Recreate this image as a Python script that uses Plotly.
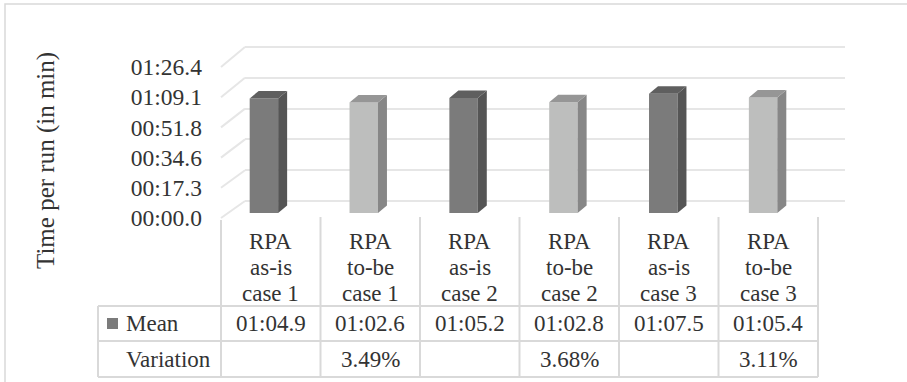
import plotly.graph_objects as go

# ---------------- data ----------------
cat_line1 = ["RPA", "RPA", "RPA", "RPA", "RPA", "RPA"]
cat_line2 = ["as-is", "to-be", "as-is", "to-be", "as-is", "to-be"]
cat_line3 = ["case 1", "case 1", "case 2", "case 2", "case 3", "case 3"]
mean_seconds = [64.9, 62.6, 65.2, 62.8, 67.5, 65.4]
variation_pct = [None, 3.49, None, 3.68, None, 3.11]
y_tick_seconds = [0, 17.28, 34.56, 51.84, 69.12, 86.4]
series_name = "Mean"
variation_label = "Variation"
y_title = "Time per run (in min)"


def fmt_time(sec):
    m = int(sec // 60)
    s = sec - 60 * m
    return f"{m:02d}:{s:04.1f}"


# ---------------- styling / geometry ----------------
W, H = 907, 382
FONT = "'Liberation Serif', 'Times New Roman', 'DejaVu Serif', serif"
TXT = "#333333"
GRID = "#e6e6e6"
BORDER = "#d9d9d9"
FRONT = {"as-is": "#7b7b7b", "to-be": "#bdbebd"}
SIDE = {"as-is": "#555555", "to-be": "#878787"}
TOP = {"as-is": "#5f5f5f", "to-be": "#969696"}


def px(x):
    return x / W


def py(y):
    return 1 - y / H


YMAX = y_tick_seconds[-1]
LO, HI = -0.6, YMAX + 0.6


def y_domain(pix0, pix_top):
    ppu = (pix0 - pix_top) / YMAX
    return [py(pix0 - LO * ppu), py(pix0 - HI * ppu)]


BACK0, BACKTOP = 201, 47
BAR0 = 213
BAR_PPU = 1.765
BARTOP = BAR0 - YMAX * BAR_PPU
FRONT0, FRONTTOP = 218, 67

BAR_W = 0.285
DX = 0.09
DY = 7.5 / BAR_PPU

fig = go.Figure()

fig.add_trace(go.Scatter(x=[None], y=[None], xaxis="x", yaxis="y",
                         showlegend=False, hoverinfo="skip"))

kinds = cat_line2
n = len(mean_seconds)
xs = list(range(n))

fig.add_trace(go.Bar(
    x=xs, y=mean_seconds, width=BAR_W, xaxis="x2", yaxis="y2",
    marker=dict(color=[FRONT[k] for k in kinds], line=dict(width=0)),
    name=series_name, showlegend=False,
))

for i, v in enumerate(mean_seconds):
    k = kinds[i]
    r = i + BAR_W / 2
    l = i - BAR_W / 2
    fig.add_trace(go.Scatter(
        x=[r, r + DX, r + DX, r, r], y=[0, DY, v + DY, v, 0],
        xaxis="x2", yaxis="y2", mode="lines", fill="toself",
        fillcolor=SIDE[k], line=dict(width=0), showlegend=False, hoverinfo="skip"))
    fig.add_trace(go.Scatter(
        x=[l, r, r + DX, l + DX, l], y=[v, v, v + DY, v + DY, v],
        xaxis="x2", yaxis="y2", mode="lines", fill="toself",
        fillcolor=TOP[k], line=dict(width=0), showlegend=False, hoverinfo="skip"))

fig.add_trace(go.Scatter(x=[None], y=[None], xaxis="x3", yaxis="y3",
                         showlegend=False, hoverinfo="skip"))

fig.update_layout(
    width=W, height=H,
    margin=dict(l=0, r=0, t=0, b=0, autoexpand=False),
    paper_bgcolor="white",
    plot_bgcolor="rgba(0,0,0,0)",
    font=dict(family=FONT, color=TXT, size=23),
    xaxis=dict(domain=[px(245), px(845)], range=[0, 1], visible=False),
    yaxis=dict(domain=y_domain(BACK0, BACKTOP), range=[LO, HI],
               tickvals=y_tick_seconds, showticklabels=False, ticks="",
               showgrid=True, gridcolor=GRID, gridwidth=2, zeroline=False,
               showline=False),
    xaxis2=dict(domain=[px(214), px(813)], range=[-0.5, n - 0.5], visible=False,
                anchor="y2"),
    yaxis2=dict(domain=y_domain(BAR0, BARTOP), range=[LO, HI], visible=False,
                anchor="x2"),
    xaxis3=dict(domain=[px(203), px(850)], range=[0, 1], visible=False, anchor="y3"),
    yaxis3=dict(domain=y_domain(FRONT0, FRONTTOP), range=[LO, HI], anchor="x3",
                tickvals=y_tick_seconds, ticktext=[fmt_time(t) for t in y_tick_seconds],
                showgrid=False, zeroline=False, showline=False, ticks="",
                automargin=False,
                tickfont=dict(size=23.5, family=FONT, color=TXT)),
)

shapes = []
shapes.append(dict(type="rect", xref="paper", yref="paper",
                   x0=px(5), x1=px(W + 10), y0=py(4), y1=py(H + 10),
                   line=dict(color=BORDER, width=1.5), fillcolor="rgba(0,0,0,0)"))

for t in y_tick_seconds:
    fy = FRONT0 - t * (FRONT0 - FRONTTOP) / YMAX
    by = BACK0 - t * (BACK0 - BACKTOP) / YMAX
    shapes.append(dict(type="line", xref="paper", yref="paper",
                       x0=px(221), y0=py(fy), x1=px(245), y1=py(by),
                       line=dict(color=GRID, width=2), layer="below"))

COL_X = [221 + i * (818 - 221) / n for i in range(n + 1)]
TBL_L = 98
HDR_TOP = 217
ROW1 = 306
ROW2 = 341
ROW3 = 377

for j, cx in enumerate(COL_X):
    top = 220 if j == 0 else HDR_TOP
    shapes.append(dict(type="line", xref="paper", yref="paper",
                       x0=px(cx), x1=px(cx), y0=py(top), y1=py(ROW3),
                       line=dict(color=BORDER, width=2)))
shapes.append(dict(type="line", xref="paper", yref="paper",
                   x0=px(TBL_L), x1=px(TBL_L), y0=py(ROW1), y1=py(ROW3),
                   line=dict(color=BORDER, width=2)))
for ry in (ROW1, ROW2, ROW3):
    shapes.append(dict(type="line", xref="paper", yref="paper",
                       x0=px(TBL_L), x1=px(COL_X[-1]), y0=py(ry), y1=py(ry),
                       line=dict(color=BORDER, width=2)))

shapes.append(dict(type="rect", xref="paper", yref="paper",
                   x0=px(107), x1=px(118), y0=py(318), y1=py(329),
                   line=dict(width=0), fillcolor=FRONT["as-is"]))

annotations = []


def ann(text, x, y, xanchor="center", size=23, angle=0):
    annotations.append(dict(text=text, x=px(x), y=py(y), xref="paper", yref="paper",
                            showarrow=False, xanchor=xanchor, yanchor="middle",
                            textangle=angle,
                            font=dict(family=FONT, size=size, color=TXT)))


for i in range(n):
    cx = (COL_X[i] + COL_X[i + 1]) / 2
    ann(cat_line1[i], cx, 241)
    ann(cat_line2[i], cx, 267)
    ann(cat_line3[i], cx, 293)
    ann(fmt_time(mean_seconds[i]), cx, 323)
    if variation_pct[i] is not None:
        ann(f"{variation_pct[i]:.2f}%", cx, 359)

ann(series_name, 124, 323, xanchor="left")
ann(variation_label, 124, 359, xanchor="left")
ann(y_title, 46, 161, size=25, angle=-90)

fig.update_layout(shapes=shapes, annotations=annotations)

fig.write_html("out.html", config={"displayModeBar": False},
               post_script="document.body.style.margin='0';")
